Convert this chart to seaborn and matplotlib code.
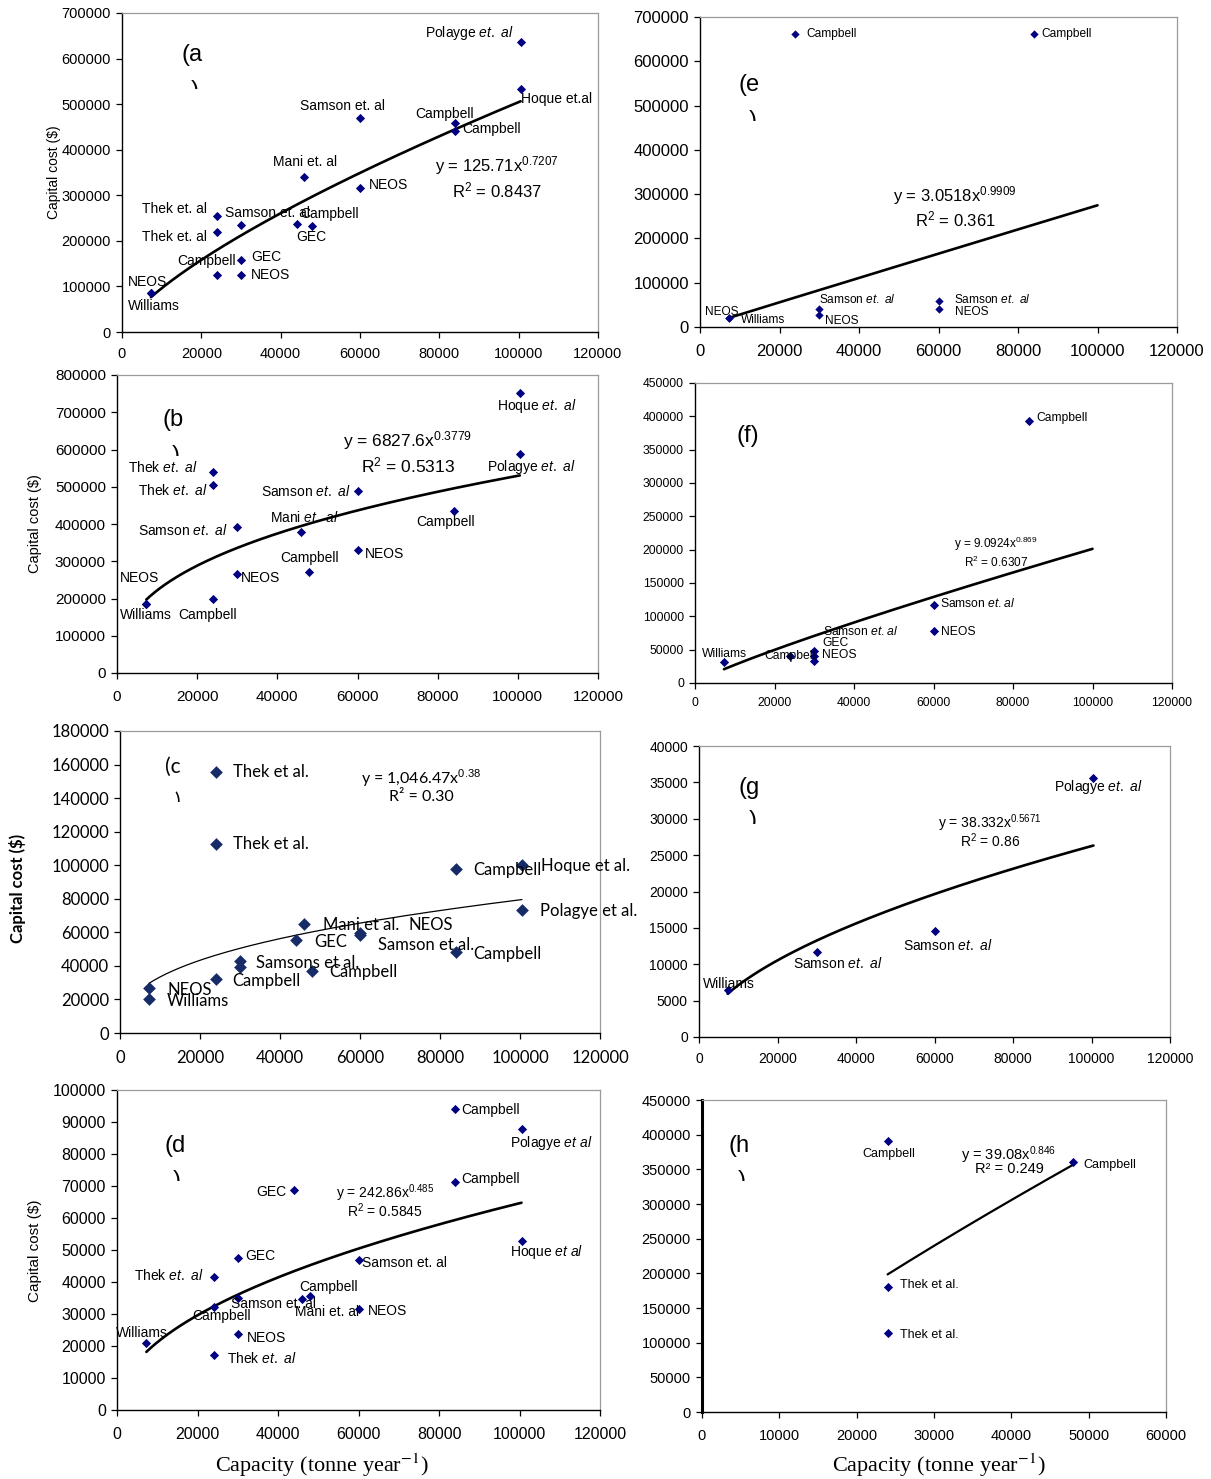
import numpy as np
import pandas as pd
import matplotlib
matplotlib.use("Agg")
import matplotlib.pyplot as plt
import seaborn as sns
from matplotlib.transforms import Bbox, TransformedBbox
from matplotlib.ticker import FuncFormatter, FixedLocator

# ----------------------------------------------------------------- data
x_ticks_main = [0, 20000, 40000, 60000, 80000, 100000, 120000]
x_ticks_h = [0, 10000, 20000, 30000, 40000, 50000, 60000]
y_ticks_a = [0, 100000, 200000, 300000, 400000, 500000, 600000, 700000]
y_ticks_b = [0, 100000, 200000, 300000, 400000, 500000, 600000, 700000, 800000]
y_ticks_c = [0, 20000, 40000, 60000, 80000, 100000, 120000, 140000, 160000, 180000]
y_ticks_d = [0, 10000, 20000, 30000, 40000, 50000, 60000, 70000, 80000, 90000, 100000]
y_ticks_e = [0, 100000, 200000, 300000, 400000, 500000, 600000, 700000]
y_ticks_f = [0, 50000, 100000, 150000, 200000, 250000, 300000, 350000, 400000, 450000]
y_ticks_g = [0, 5000, 10000, 15000, 20000, 25000, 30000, 35000, 40000]
y_ticks_h = [0, 50000, 100000, 150000, 200000, 250000, 300000, 350000, 400000, 450000]

# (a)
a_capacity = [100500, 100500, 60000, 84000, 84000, 46000, 60000, 24000, 30000,
              44000, 48000, 24000, 30000, 24000, 30000, 7300, 7300]
a_cost = [636000, 533000, 469000, 458000, 441000, 341000, 315000, 255000, 235000,
          238000, 233000, 219000, 158000, 125000, 125000, 86000, 86000]
a_labels = [r"Polayge $\it{et.\ al}$", "Hoque et.al", "Samson et. al", "Campbell", "Campbell",
            "Mani et. al", "NEOS", "Thek et. al", "Samson et. al", "Campbell", "GEC",
            "Thek et. al", "GEC", "Campbell", "NEOS", "NEOS", "Williams"]
a_fit = [125.71, 0.7207]
a_fit_range = [7300, 100500]
a_equation = [r"y = 125.71x$^{0.7207}$", r"R$^{2}$ = 0.8437"]

# (b)
b_capacity = [100500, 100500, 24000, 24000, 60000, 84000, 30000, 46000, 60000,
              48000, 30000, 24000, 7300, 7300]
b_cost = [751000, 589000, 540000, 505000, 489000, 434000, 392000, 378000, 330000,
          271000, 266000, 198000, 185000, 185000]
b_labels = [r"Hoque $\it{et.\ al}$", r"Polagye $\it{et.\ al}$", r"Thek $\it{et.\ al}$",
            r"Thek $\it{et.\ al}$", r"Samson $\it{et.\ al}$", "Campbell", r"Samson $\it{et.\ al}$",
            r"Mani $\it{et.\ al}$", "NEOS", "Campbell", "NEOS", "Campbell", "Williams", "NEOS"]
b_fit = [6827.6, 0.3779]
b_fit_range = [7300, 100500]
b_equation = [r"y = 6827.6x$^{0.3779}$", r"R$^{2}$ = 0.5313"]

# (c)
c_capacity = [24000, 24000, 100500, 84000, 100500, 46000, 60000, 60000, 44000,
              84000, 30000, 30000, 48000, 24000, 7300, 7300]
c_cost = [155600, 112700, 100000, 97800, 73200, 65000, 59500, 58500, 55400,
          48000, 42800, 39500, 36900, 32000, 26600, 20000]
c_labels = ["Thek et al.", "Thek et al.", "Hoque et al.", "Campbell", "Polagye et al.",
            "Mani et al.", "NEOS", "Samson et al.", "GEC", "Campbell", "Samsons et al.", "",
            "Campbell", "Campbell", "NEOS", "Williams"]
c_fit = [1046.47, 0.376]          # printed exponent 0.38 (rounded)
c_fit_range = [7300, 100500]
c_equation = [r"y = 1,046.47x$^{0.38}$", "R² = 0.30"]

# (d)
d_capacity = [84000, 100500, 84000, 44000, 100500, 30000, 60000, 24000, 48000,
              30000, 46000, 24000, 60000, 30000, 7300, 24000]
d_cost = [94000, 87800, 71200, 68800, 52900, 47600, 46900, 41600, 35500,
          35100, 34700, 32100, 31500, 23700, 20900, 17200]
d_labels = ["Campbell", r"Polagye $\it{et\ al}$", "Campbell", "GEC", r"Hoque $\it{et\ al}$",
            "GEC", "Samson et. al", r"Thek $\it{et.\ al}$", "Campbell", "Samson et. al",
            "Mani et. al", "Campbell", "NEOS", "NEOS", "Williams", r"Thek $\it{et.\ al}$"]
d_fit = [242.86, 0.485]
d_fit_range = [7300, 100500]
d_equation = [r"y = 242.86x$^{0.485}$", r"R$^{2}$ = 0.5845"]

# (e)
e_capacity = [24000, 84000, 30000, 30000, 60000, 60000, 7300, 7300]
e_cost = [662500, 662500, 41000, 28000, 59000, 40000, 20000, 20000]
e_labels = ["Campbell", "Campbell", r"Samson $\it{et.\ al}$", "NEOS",
            r"Samson $\it{et.\ al}$", "NEOS", "Williams", "NEOS"]
e_fit = [3.0518, 0.9909]
e_fit_range = [7300, 100000]
e_equation = [r"y = 3.0518x$^{0.9909}$", r"R$^{2}$ = 0.361"]

# (f)
f_capacity = [84000, 60000, 60000, 30000, 30000, 30000, 24000, 7300]
f_cost = [392500, 116500, 78500, 48000, 41000, 32500, 40500, 32000]
f_labels = ["Campbell", r"Samson $\it{et.al}$", "NEOS", r"Samson $\it{et.al}$", "GEC",
            "NEOS", "Campbell", "Williams"]
f_fit = [9.0924, 0.869]
f_fit_range = [7300, 100000]
f_equation = [r"y = 9.0924x$^{0.869}$", r"R$^{2}$ = 0.6307"]

# (g)
g_capacity = [100500, 60000, 30000, 7300]
g_cost = [35600, 14600, 11750, 6500]
g_labels = [r"Polagye $\it{et.\ al}$", r"Samson $\it{et.\ al}$", r"Samson $\it{et.\ al}$", "Williams"]
g_fit = [38.332, 0.5671]
g_fit_range = [7300, 100500]
g_equation = [r"y = 38.332x$^{0.5671}$", r"R$^{2}$ = 0.86"]

# (h)
h_capacity = [24000, 48000, 24000, 24000]
h_cost = [391500, 360700, 180600, 114300]
h_labels = ["Campbell", "Campbell", "Thek et al.", "Thek et al."]
h_fit = [39.08, 0.846]
h_fit_range = [24000, 48000]
h_equation = [r"y = 39.08x$^{0.846}$", "R² = 0.249"]

y_title = "Capital cost ($)"
x_title = r"Capacity (tonne year$^{-1}$)"

# ----------------------------------------------------------------- layout / style
W, H = 1211, 1479
SANS = ['Liberation Sans', 'DejaVu Sans']
LATO = ['Lato', 'DejaVu Sans']

label_offsets = {
    'a': [(-7, 9, 'right'), (0, -10, 'left'), (-18, 12, 'center'), (-11, 9, 'center'),
          (7, 2, 'left'), (1, 15, 'center'), (9, 3, 'left'), (-10, 7, 'right'),
          (-16, 12, 'left'), (4, 10, 'left'), (-1, -11, 'center'), (-10, -5, 'right'),
          (10, 3, 'left'), (-11, 14, 'center'), (10, 0, 'left'), (-3, 11, 'center'),
          (3, -13, 'center')],
    'b': [(17, -13, 'center'), (12, -13, 'center'), (-16, 4, 'right'), (-6, -6, 'right'),
          (-7, -1, 'right'), (-8, -11, 'center'), (-10, -4, 'right'), (3, 15, 'center'),
          (7, -4, 'left'), (0, 14, 'center'), (4, -4, 'left'), (-6, -16, 'center'),
          (0, -11, 'center'), (-7, 26, 'center')],
    'c': [(17, 0, 'left'), (17, 0, 'left'), (19, -1, 'left'), (17, -1, 'left'),
          (18, -1, 'left'), (19, -1, 'left'), (49, 8, 'left'), (18, -10, 'left'),
          (18, -2, 'left'), (17, -2, 'left'), (16, -2, 'left'), (0, 0, 'left'),
          (17, -1, 'left'), (16, -2, 'left'), (18, -2, 'left'), (18, -2, 'left')],
    'd': [(6, -1, 'left'), (30, -14, 'center'), (6, 3, 'left'), (-8, -2, 'right'),
          (25, -11, 'center'), (8, 2, 'left'), (3, -3, 'left'), (-10, 1, 'right'),
          (18, 9, 'center'), (-7, -6, 'left'), (-7, -13, 'left'), (8, -9, 'center'),
          (9, -2, 'left'), (9, -4, 'left'), (-5, 10, 'center'), (13, -4, 'left')],
    'e': [(11, 0, 'left'), (7, 0, 'left'), (0, 9, 'left'), (6, -6, 'left'),
          (16, 1, 'left'), (16, -3, 'left'), (12, -2, 'left'), (-7, 6, 'center')],
    'f': [(7, 3, 'left'), (7, 2, 'left'), (7, -1, 'left'), (9, 19, 'left'),
          (8, 13, 'left'), (8, 6, 'left'), (0, 0, 'center'), (0, 8, 'center')],
    'g': [(5, -9, 'center'), (13, -15, 'center'), (21, -12, 'center'), (1, 6, 'center')],
    'h': [(1, -13, 'center'), (10, -3, 'left'), (12, 2, 'left'), (12, -2, 'left')],
}

panels = {
    'a': dict(cap=a_capacity, cost=a_cost, labels=a_labels, fit=a_fit, rng=a_fit_range, eq=a_equation,
              box=(122, 13, 598, 332), yt=y_ticks_a, xt=x_ticks_main, tfs=10.5, lfs=10, efs=12,
              eqpos=(497, 166, 190), letter=("(a", 181, 55), paren=(193, 80, 198, 88),
              ms=22, mc='#000080', lw=1.9, fam=SANS, xpad=7, ypad=4),
    'b': dict(cap=b_capacity, cost=b_cost, labels=b_labels, fit=b_fit, rng=b_fit_range, eq=b_equation,
              box=(117, 375, 598, 673), yt=y_ticks_b, xt=x_ticks_main, tfs=11, lfs=10, efs=12.5,
              eqpos=(408, 441, 465), letter=("(b", 163, 420), paren=(174, 445, 180, 455),
              ms=22, mc='#000080', lw=1.9, fam=SANS, xpad=8, ypad=4),
    'c': dict(cap=c_capacity, cost=c_cost, labels=c_labels, fit=c_fit, rng=c_fit_range, eq=c_equation,
              box=(120, 731, 600, 1033), yt=y_ticks_c, xt=x_ticks_main, tfs=12, lfs=12, efs=11.5,
              eqpos=(421, 778, 797), letter=("(c", 165, 767), paren=(176, 792, 181, 801),
              ms=42, mc='#172b66', lw=0.9, fam=LATO, xpad=8, ypad=4),
    'd': dict(cap=d_capacity, cost=d_cost, labels=d_labels, fit=d_fit, rng=d_fit_range, eq=d_equation,
              box=(117, 1090, 600, 1410), yt=y_ticks_d, xt=x_ticks_main, tfs=11.5, lfs=10, efs=10,
              eqpos=(385, 1193, 1211), letter=("(d", 164, 1146), paren=(175, 1170, 180, 1180),
              ms=22, mc='#000080', lw=1.9, fam=SANS, xpad=8, ypad=4),
    'e': dict(cap=e_capacity, cost=e_cost, labels=e_labels, fit=e_fit, rng=e_fit_range, eq=e_equation,
              box=(700, 17, 1177, 327), yt=y_ticks_e, xt=x_ticks_main, tfs=12, lfs=8.6, efs=12,
              eqpos=(955, 196, 219), letter=("(e", 739, 85), paren=(751, 110, 755, 120),
              ms=18, mc='#000080', lw=1.9, fam=SANS, xpad=8, ypad=4),
    'f': dict(cap=f_capacity, cost=f_cost, labels=f_labels, fit=f_fit, rng=f_fit_range, eq=f_equation,
              box=(695, 383, 1172, 683), yt=y_ticks_f, xt=x_ticks_main, tfs=8.7, lfs=8.7, efs=8.5,
              eqpos=(996, 544, 562), letter=("(f)", 736, 436), paren=None,
              ms=22, mc='#000080', lw=1.9, fam=SANS, xpad=6, ypad=4),
    'g': dict(cap=g_capacity, cost=g_cost, labels=g_labels, fit=g_fit, rng=g_fit_range, eq=g_equation,
              box=(699, 746, 1170, 1037), yt=y_ticks_g, xt=x_ticks_main, tfs=10, lfs=10, efs=10,
              eqpos=(990, 823, 841), letter=("(g", 739, 788), paren=(751, 810, 756, 823),
              ms=22, mc='#000080', lw=1.9, fam=SANS, xpad=7, ypad=4),
    'h': dict(cap=h_capacity, cost=h_cost, labels=h_labels, fit=h_fit, rng=h_fit_range, eq=h_equation,
              box=(702, 1100, 1166, 1412), yt=y_ticks_h, xt=x_ticks_h, tfs=10.5, lfs=9, efs=10.5,
              eqpos=(1009, 1155, 1169), letter=("(h", 729, 1146), paren=(740, 1170, 746, 1180),
              ms=22, mc='#000080', lw=1.6, fam=SANS, xpad=8, ypad=4),
}

ylabel_pos = {'a': (54, 172, 10, 'normal', SANS), 'b': (35, 524, 10.5, 'normal', SANS),
              'c': (18, 888, 12, 'bold', LATO), 'd': (35, 1251, 11, 'normal', SANS)}
xlabel_pos = [(322, 1465), (939, 1465)]

# ----------------------------------------------------------------- drawing
sns.set_theme(style="white")
plt.rcParams['font.family'] = SANS
plt.rcParams['mathtext.fontset'] = 'custom'
plt.rcParams['mathtext.rm'] = 'Liberation Sans'
plt.rcParams['mathtext.it'] = 'Liberation Sans:italic'
plt.rcParams['mathtext.bf'] = 'Liberation Sans:bold'
plt.rcParams['axes.unicode_minus'] = False

fig = plt.figure(figsize=(W / 100, H / 100), dpi=100)
fig.patch.set_facecolor('white')


def fx(x):
    return x / W


def fy(y):
    return 1 - y / H


for key, p in panels.items():
    l, t, r, b = p['box']
    ax = fig.add_axes([fx(l), fy(b), (r - l) / W, (b - t) / H])
    ax.set_facecolor('white')

    xs = np.linspace(p['rng'][0], p['rng'][1], 300)
    fit_df = pd.DataFrame({'capacity': xs, 'cost': p['fit'][0] * xs ** p['fit'][1]})
    sns.lineplot(data=fit_df, x='capacity', y='cost', color='black', lw=p['lw'],
                 ax=ax, estimator=None, sort=False, zorder=2)

    df = pd.DataFrame({'capacity': p['cap'], 'cost': p['cost']})
    sns.scatterplot(data=df, x='capacity', y='cost', marker='D', s=p['ms'], color=p['mc'],
                    edgecolor=p['mc'], linewidth=0, ax=ax, legend=False, zorder=3)

    for (x, y, lab, (dx, dy, ha)) in zip(p['cap'], p['cost'], p['labels'], label_offsets[key]):
        if lab:
            ax.annotate(lab, xy=(x, y), xytext=(dx, dy), textcoords='offset pixels',
                        ha=ha, va='center', fontsize=p['lfs'], family=p['fam'],
                        color='black', zorder=4, annotation_clip=False)

    ax.set_xlim(p['xt'][0], p['xt'][-1])
    ax.set_ylim(p['yt'][0], p['yt'][-1])
    ax.xaxis.set_major_locator(FixedLocator(p['xt']))
    ax.yaxis.set_major_locator(FixedLocator(p['yt']))
    fmt = FuncFormatter(lambda v, pos: f"{int(round(v))}")
    ax.xaxis.set_major_formatter(fmt)
    ax.yaxis.set_major_formatter(fmt)
    ax.set_xlabel('')
    ax.set_ylabel('')
    ax.tick_params(axis='x', direction='out', length=4, width=0.9, color='black',
                   labelsize=p['tfs'], pad=p['xpad'], bottom=True, top=False)
    ax.tick_params(axis='y', direction='out', length=4, width=0.9, color='black',
                   labelsize=p['tfs'], pad=p['ypad'], left=True, right=False)
    for lbl in ax.get_xticklabels() + ax.get_yticklabels():
        lbl.set_family(p['fam'])
        lbl.set_color('black')
    for s in ['left', 'bottom']:
        ax.spines[s].set_color('black')
        ax.spines[s].set_linewidth(1.0)
    for s in ['top', 'right']:
        ax.spines[s].set_color('#9a9a9a')
        ax.spines[s].set_linewidth(0.9)
    if key == 'h':
        ax.spines['left'].set_linewidth(2.2)

    # equation
    ex, ey1, ey2 = p['eqpos']
    fig.text(fx(ex), fy(ey1), p['eq'][0], ha='center', va='center', fontsize=p['efs'],
             family=p['fam'], color='black')
    fig.text(fx(ex), fy(ey2), p['eq'][1], ha='center', va='center', fontsize=p['efs'],
             family=p['fam'], color='black')

    # panel letter
    letter_fs = 15 if key == 'c' else 17
    txt, lx, ly = p['letter']
    fig.text(fx(lx), fy(ly), txt, ha='left', va='center', fontsize=letter_fs,
             family=p['fam'], color='black')
    if p['paren'] is not None:
        x0, y0, x1, y1 = p['paren']
        fpx = letter_fs * 100 / 72
        t_ = fig.text(fx(x0 - 0.08 * fpx), fy(y0 + 0.74 * fpx), ")", ha='left', va='baseline',
                      fontsize=letter_fs, family=p['fam'], color='black')
        bb = TransformedBbox(Bbox.from_extents(fx(x0 - 4), fy(y1 + 1), fx(x1 + 4), fy(y0 - 1)),
                             fig.transFigure)
        t_.set_clip_box(bb)
        t_.set_clip_on(True)

# y axis titles
for key, (x, y, fs, wt, fam) in ylabel_pos.items():
    fig.text(fx(x), fy(y), y_title, rotation=90, ha='center', va='center', fontsize=fs,
             fontweight=wt, family=fam, color='black')

# x axis titles
for (x, y) in xlabel_pos:
    fig.text(fx(x), fy(y), x_title, ha='center', va='center', fontsize=16,
             family=['Liberation Serif', 'DejaVu Serif'], math_fontfamily='stix', color='black')

fig.savefig('out.png', dpi=100, facecolor='white')
